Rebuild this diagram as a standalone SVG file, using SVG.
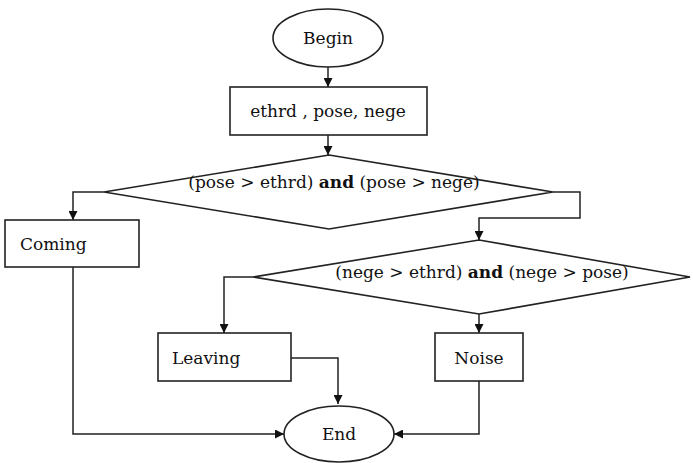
<svg xmlns="http://www.w3.org/2000/svg" width="693" height="463" viewBox="0 0 693 463">
<style>
.s{fill:#fff;stroke:#222;stroke-width:1.6}
.c{fill:none;stroke:#222;stroke-width:1.5}
text{font-family:"DejaVu Serif","Liberation Serif",serif;font-size:17px;fill:#111}
.m{text-anchor:middle}
</style>
<defs>
<marker id="a" viewBox="0 0 10 10" refX="10" refY="5" markerWidth="9" markerHeight="9" markerUnits="userSpaceOnUse" orient="auto">
<path d="M0,0 L10,5 L0,10 z" fill="#111"/>
</marker>
</defs>
<rect width="693" height="463" fill="#fff"/>
<g id="connectors">
<path class="c" d="M328,67 V87" marker-end="url(#a)"/>
<path class="c" d="M328,135 V155" marker-end="url(#a)"/>
<path class="c" d="M104,192 H73 V220" marker-end="url(#a)"/>
<path class="c" d="M553,192 H580 V218 H479 V240" marker-end="url(#a)"/>
<path class="c" d="M253,277 H224 V333" marker-end="url(#a)"/>
<path class="c" d="M479,314 V333" marker-end="url(#a)"/>
<path class="c" d="M291,358 H338 V404" marker-end="url(#a)"/>
<path class="c" d="M73,267 V434 H284" marker-end="url(#a)"/>
<path class="c" d="M479,381 V434 H394" marker-end="url(#a)"/>
</g>
<g id="begin">
<ellipse class="s" cx="328" cy="38" rx="55" ry="29"/>
<text class="m" x="328" y="44">Begin</text>
</g>
<g id="init">
<rect class="s" x="230" y="87" width="197" height="48"/>
<text class="m" x="328" y="117">ethrd , pose, nege</text>
</g>
<g id="cond1">
<polygon class="s" points="329,155 553,192 329,229 104,192"/>
<text class="m" x="334" y="188">(pose  &gt; ethrd) <tspan font-weight="bold">and</tspan> (pose &gt; nege)</text>
</g>
<g id="coming">
<rect class="s" x="5" y="220" width="134" height="47"/>
<text x="20" y="250">Coming</text>
</g>
<g id="cond2">
<polygon class="s" points="479,240 690,277 479,314 253,277"/>
<text class="m" x="482" y="278">(nege  &gt; ethrd) <tspan font-weight="bold">and</tspan> (nege &gt; pose)</text>
</g>
<g id="leaving">
<rect class="s" x="158" y="333" width="133" height="48"/>
<text x="172" y="364">Leaving</text>
</g>
<g id="noise">
<rect class="s" x="435" y="333" width="88" height="48"/>
<text class="m" x="479" y="364">Noise</text>
</g>
<g id="end">
<ellipse class="s" cx="339" cy="434" rx="55" ry="28"/>
<text class="m" x="339" y="440">End</text>
</g>
</svg>
